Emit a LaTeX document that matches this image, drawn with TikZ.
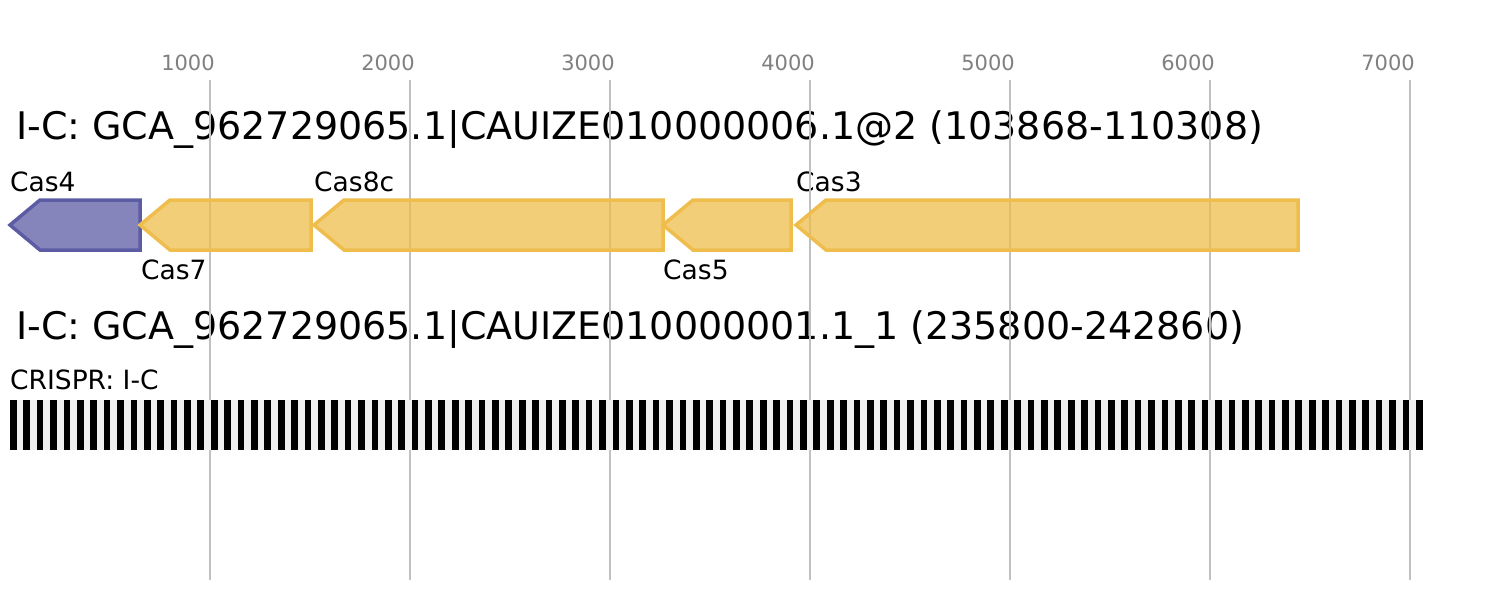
\documentclass[tikz,border=0pt]{standalone}
\usepackage{fontspec}
\setmainfont{DejaVu Sans}
\usetikzlibrary{positioning}
\definecolor{casyellow}{RGB}{238,189,76}
\definecolor{caspurple}{RGB}{92,92,165}
\definecolor{gridgray}{RGB}{192,192,192}
\definecolor{ticktext}{RGB}{128,128,128}
\definecolor{arraygray}{RGB}{240,240,240}
% gene on the minus strand: tip at #1, end at #2, colour #3
\newcommand{\revgene}[3]{%
  \draw[gene, draw=#3, fill=#3] (#1,225) -- ({#1+30},200) -- (#2,200) -- (#2,250) -- ({#1+30},250) -- cycle;}

\begin{document}
\begin{tikzpicture}[
  x=1pt, y=-1pt,
  title/.style={anchor=base west, inner sep=0pt, font=\fontsize{38}{45}\selectfont},
  lbl/.style={anchor=base west, inner sep=0pt, font=\fontsize{26.5}{31}\selectfont},
  tick/.style={anchor=base, inner sep=0pt, text=ticktext, font=\fontsize{21}{25}\selectfont},
  grid/.style={draw=gridgray, line width=2pt},
  gene/.style={line width=3.5pt, fill opacity=0.75}
]
  \useasboundingbox (0,0) rectangle (1512,600);

  % Titles and labels
  \node[title] (loc1) at (16,139) {I-C: GCA\_962729065.1|CAUIZE010000006.1@2 (103868-110308)};
  \node[title] (loc2) at (16,339) {I-C: GCA\_962729065.1|CAUIZE010000001.1\_1 (235800-242860)};
  \node[lbl] (cas4)  at (10,191)  {Cas4};
  \node[lbl] (cas7)  at (141,279) {Cas7};
  \node[lbl] (cas8c) at (314,191) {Cas8c};
  \node[lbl] (cas5)  at (663,279) {Cas5};
  \node[lbl] (cas3)  at (796,191) {Cas3};
  \node[lbl] (crispr) at (10,389) {CRISPR: I-C};

  % Scale
  \foreach \k in {1,...,7} {
    \node[tick] (tick\k) at ({200*\k-12},70) {\k000};
    \draw[grid] ({10+200*\k},80) -- ({10+200*\k},580);
  }

  % Genes
  \revgene{10}{140}{caspurple}
  \revgene{140}{311}{casyellow}
  \revgene{314}{663}{casyellow}
  \revgene{663}{791}{casyellow}
  \revgene{796}{1298}{casyellow}

  % CRISPR array
  \fill[arraygray] (10,400) rectangle (1422,450);
  \foreach \i in {0,...,105}
    \fill[black] ({10+13.39*\i},400) rectangle ({16.7+13.39*\i},450);
\end{tikzpicture}
\end{document}
